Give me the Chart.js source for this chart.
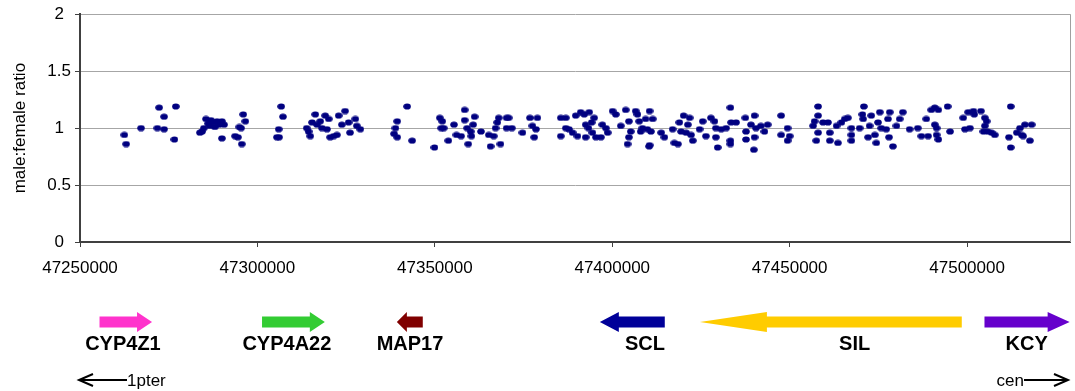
<!DOCTYPE html>
<html lang="en">
<head>
    <meta charset="UTF-8">
    <title>male:female ratio</title>
    <script src="https://cdn.jsdelivr.net/npm/chart.js"></script>
    <style>
        body {
            margin: 0;
            background: #fff;
        }
        canvas {
            display: block;
        }
    </style>
</head>
<body>

<canvas id="ratioChart" width="1075" height="391"></canvas>

<script>
    // marker positions (bp) and male:female ratios
    const positions = [
        47262500, 47263000, 47267200, 47272300, 47273700, 47271800, 47273700, 47277000, 47276600,
        47283800, 47284400, 47284900, 47285500, 47286100, 47286600, 47286900, 47287500, 47288000,
        47288600, 47289200, 47290000, 47290600, 47290000, 47293700, 47294500, 47294900, 47295400,
        47296000, 47296600, 47295600, 47306700, 47307200, 47306000, 47306100, 47305500, 47313900,
        47314400, 47314900, 47315400, 47316300, 47316800, 47317700, 47318200, 47319100, 47319600,
        47320100, 47320500, 47321500, 47322400, 47322900, 47323800, 47324700, 47325700, 47326100,
        47327600, 47328000, 47329000, 47342200, 47339400, 47338900, 47338500, 47339400, 47343600,
        47351400, 47352100, 47351800, 47352500, 47349900, 47353800, 47355400, 47356100, 47357400,
        47358400, 47358400, 47359100, 47360100, 47360300, 47361200, 47360800, 47359400, 47363000,
        47365200, 47366600, 47367100, 47367600, 47368000, 47365700, 47368500, 47370200, 47370200,
        47370800, 47371700, 47374700, 47376800, 47378900, 47377500, 47378500, 47378000, 47385500,
        47386900, 47385500, 47386900, 47387800, 47389700, 47391100, 47392100, 47393500, 47388800,
        47390200, 47392500, 47392500, 47393300, 47394200, 47394900, 47394400, 47395400, 47396800,
        47397200, 47398200, 47398700, 47400100, 47401000, 47402400, 47403800, 47404700, 47405200,
        47404700, 47404300, 47406600, 47407100, 47407600, 47408000, 47408500, 47409400, 47409900,
        47410400, 47410500, 47411400, 47410900, 47410500, 47413800, 47414700, 47417000, 47417500,
        47418500, 47418900, 47419400, 47420100, 47420800, 47421800, 47421300, 47422700, 47422200,
        47424600, 47425500, 47426400, 47427800, 47428800, 47429200, 47429200, 47429700, 47430700,
        47432100, 47433300, 47433500, 47433300, 47433300, 47434900, 47437500, 47437700, 47437700,
        47439100, 47440100, 47440500, 47440100, 47439900, 47441900, 47442900, 47443800, 47447600,
        47447600, 47449400, 47449400, 47450000, 47458000, 47458000, 47456600, 47457000, 47458000,
        47457500, 47459400, 47460800, 47461300, 47461300, 47463600, 47463200, 47464600, 47465500,
        47466400, 47467400, 47467400, 47467400, 47469700, 47470700, 47470900, 47470500, 47472100,
        47473000, 47472500, 47474000, 47474400, 47475400, 47474900, 47475800, 47477200, 47477700,
        47478200, 47478000, 47479100, 47480100, 47481000, 47481900, 47483800, 47486100, 47487100,
        47488500, 47489000, 47489900, 47490900, 47491900, 47490900, 47491400, 47491400, 47491900,
        47494500, 47495200, 47498900, 47499400, 47500800, 47500300, 47501800, 47502000, 47503900,
        47505000, 47505500, 47505000, 47504600, 47505800, 47506900, 47507800, 47512300, 47511800,
        47512300, 47514000, 47514900, 47516300, 47518200, 47515400, 47515800, 47517700
    ];
    const ratios = [
        0.94, 0.86, 1.00, 1.18, 1.10, 1.00, 0.99, 1.19, 0.90,
        0.96, 0.97, 1.00, 1.08, 1.04, 1.02, 1.07, 1.05, 1.01,
        1.06, 1.03, 1.06, 1.03, 0.91, 0.93, 0.92, 1.01, 1.00,
        1.12, 1.06, 0.86, 1.19, 1.10, 0.99, 0.92, 0.92, 1.00,
        0.97, 0.93, 1.05, 1.12, 1.03, 1.06, 1.00, 1.11, 0.99,
        1.08, 0.92, 0.93, 0.94, 1.11, 1.03, 1.15, 1.05, 0.96,
        1.08, 1.02, 0.99, 1.19, 1.06, 1.00, 0.95, 0.92, 0.89,
        1.09, 1.06, 1.00, 1.00, 0.83, 0.89, 1.03, 0.94, 0.93,
        1.16, 1.07, 1.00, 0.97, 0.93, 1.10, 1.03, 0.86, 0.97,
        0.94, 0.93, 1.00, 1.05, 1.09, 0.84, 0.86, 1.09, 1.00,
        1.09, 1.00, 0.96, 1.09, 1.09, 1.02, 0.99, 0.92, 1.09,
        1.09, 0.93, 1.00, 0.99, 1.11, 1.14, 1.12, 1.14, 0.96,
        0.93, 0.92, 1.03, 1.00, 1.05, 1.09, 0.96, 0.92, 0.92,
        1.03, 1.00, 0.96, 1.15, 1.12, 1.02, 1.16, 1.06, 0.97,
        0.92, 0.86, 1.15, 1.12, 1.06, 0.97, 1.00, 1.08, 0.99,
        0.84, 1.15, 1.08, 0.97, 0.85, 0.96, 0.92, 0.99, 0.87,
        0.86, 1.05, 0.97, 1.11, 0.96, 1.09, 1.03, 0.89, 0.94,
        0.99, 1.06, 0.93, 1.09, 1.06, 1.00, 0.92, 0.83, 0.99,
        1.00, 1.18, 1.05, 0.89, 0.86, 1.05, 1.09, 0.97, 0.90,
        1.03, 1.11, 1.00, 0.92, 0.81, 1.02, 0.97, 1.03, 1.11,
        0.94, 1.00, 0.89, 0.93, 1.19, 1.11, 1.02, 1.06, 0.96,
        0.89, 1.05, 1.05, 0.96, 0.89, 0.87, 1.02, 1.05, 1.08,
        1.09, 1.00, 0.94, 0.89, 1.00, 1.08, 1.19, 1.12, 0.92,
        1.11, 1.02, 0.94, 0.87, 1.14, 1.05, 1.00, 0.99, 1.08,
        1.14, 0.92, 0.84, 1.02, 1.08, 1.14, 0.99, 1.00, 0.93,
        1.08, 0.93, 1.16, 1.18, 1.16, 1.03, 1.00, 0.94, 0.90,
        1.19, 0.97, 1.09, 0.99, 1.00, 1.14, 1.15, 1.12, 1.15,
        1.09, 1.06, 1.02, 0.97, 0.97, 0.96, 0.94, 1.19, 0.92,
        0.83, 0.96, 1.00, 1.03, 1.03, 0.94, 0.93, 0.89
    ];

    const xTicks = [47250000, 47300000, 47350000, 47400000, 47450000, 47500000];
    const yTicks = [0, 0.5, 1, 1.5, 2];

    // genes along the region (bp): tail -> tip, and where the name sits
    const geneNames = ['CYP4Z1', 'CYP4A22', 'MAP17', 'SCL', 'SIL', 'KCY'];
    const geneTail = [47255500, 47301300, 47346600, 47414800, 47498500, 47504900];
    const geneTip = [47270300, 47319000, 47339300, 47396500, 47424700, 47528900];
    const geneLabelAt = [47262100, 47308300, 47343000, 47409200, 47468300, 47516800];

    const geneColors = ['#ff33cc', '#33cc33', '#800000', '#000099', '#ffcc00', '#6600cc'];
    const headLen = [15, 15, 10, 19, 67, 22];

    // slightly wide dot, like the original markers
    const dot = document.createElement('canvas');
    dot.width = 8;
    dot.height = 7;
    const dctx = dot.getContext('2d');
    dctx.fillStyle = '#000080';
    dctx.beginPath();
    dctx.ellipse(4, 3.5, 3.8, 3.1, 0, 0, Math.PI * 2);
    dctx.fill();

    function arrow(ctx, x1, x2, y, hl, color) {
        const dir = x2 > x1 ? 1 : -1;
        const hb = x2 - dir * hl;
        ctx.fillStyle = color;
        ctx.beginPath();
        ctx.moveTo(x1, y - 5.5);
        ctx.lineTo(hb, y - 5.5);
        ctx.lineTo(hb, y - 10);
        ctx.lineTo(x2, y);
        ctx.lineTo(hb, y + 10);
        ctx.lineTo(hb, y + 5.5);
        ctx.lineTo(x1, y + 5.5);
        ctx.closePath();
        ctx.fill();
    }

    function lineArrow(ctx, x1, x2, y) {
        const dir = x2 > x1 ? 1 : -1;
        ctx.strokeStyle = '#000';
        ctx.lineWidth = 2;
        ctx.beginPath();
        ctx.moveTo(x1, y);
        ctx.lineTo(x2, y);
        ctx.moveTo(x2 - dir * 14, y - 6);
        ctx.lineTo(x2, y);
        ctx.lineTo(x2 - dir * 14, y + 6);
        ctx.stroke();
    }

    const genePlugin = {
        id: 'genes',
        afterDraw(chart) {
            const ctx = chart.ctx;
            const x = chart.scales.x;
            const area = chart.chartArea;
            ctx.save();

            // right frame line
            ctx.strokeStyle = '#a0a0a0';
            ctx.lineWidth = 1;
            ctx.beginPath();
            ctx.moveTo(area.right + 0.5, area.top);
            ctx.lineTo(area.right + 0.5, area.bottom);
            ctx.stroke();

            ctx.font = 'bold 20px "Liberation Sans", Arial, sans-serif';
            ctx.textAlign = 'center';
            ctx.textBaseline = 'middle';
            geneNames.forEach((name, i) => {
                const a = x.getPixelForValue(geneTail[i]);
                const b = x.getPixelForValue(geneTip[i]);
                arrow(ctx, a, b, 322, headLen[i], geneColors[i]);
                ctx.fillStyle = '#000';
                ctx.fillText(name, x.getPixelForValue(geneLabelAt[i]), 344);
            });

            // orientation arrows
            ctx.font = '17px "Liberation Sans", Arial, sans-serif';
            ctx.textAlign = 'left';
            lineArrow(ctx, 127, 79, 380);
            ctx.fillText('1pter', 127, 381);
            ctx.textAlign = 'right';
            ctx.fillText('cen', 1024, 381);
            lineArrow(ctx, 1024, 1068, 380);
            ctx.restore();
        }
    };

    const ctx = document.getElementById('ratioChart').getContext('2d');

    new Chart(ctx, {
        type: 'scatter',
        data: {
            datasets: [{
                data: positions.map((p, i) => ({ x: p, y: ratios[i] })),
                pointStyle: dot,
                pointRadius: 4,
                pointHoverRadius: 4
            }]
        },
        options: {
            responsive: false,
            animation: false,
            layout: {
                padding: { top: 14, right: 3, left: 0, bottom: 0 }
            },
            plugins: {
                legend: { display: false },
                tooltip: { enabled: false }
            },
            scales: {
                x: {
                    type: 'linear',
                    min: 47250000,
                    max: 47529000,
                    afterBuildTicks: s => { s.ticks = xTicks.map(v => ({ value: v })); },
                    afterFit: s => { s.height = 149; },
                    ticks: {
                        maxRotation: 0,
                        autoSkip: false,
                        padding: 11,
                        color: '#000',
                        font: { family: '"Liberation Sans", Arial, sans-serif', size: 17 },
                        callback: v => String(v)
                    },
                    grid: {
                        drawOnChartArea: false,
                        tickLength: 5,
                        tickColor: '#404040'
                    },
                    border: { color: '#404040', width: 2 }
                },
                y: {
                    min: 0,
                    max: 2,
                    afterBuildTicks: s => { s.ticks = yTicks.map(v => ({ value: v })); },
                    afterFit: s => { s.width = 80; },
                    ticks: {
                        padding: 4,
                        crossAlign: 'center',
                        color: '#000',
                        font: { family: '"Liberation Sans", Arial, sans-serif', size: 17 },
                        callback: v => String(v)
                    },
                    grid: {
                        color: '#a6a6a6',
                        tickLength: 5,
                        tickColor: '#404040'
                    },
                    border: { color: '#404040', width: 2 },
                    title: {
                        display: true,
                        text: 'male:female ratio',
                        color: '#000',
                        padding: { top: 10, bottom: 0 },
                        font: { family: '"Liberation Sans", Arial, sans-serif', size: 17 }
                    }
                }
            }
        },
        plugins: [genePlugin]
    });
</script>

</body>
</html>
